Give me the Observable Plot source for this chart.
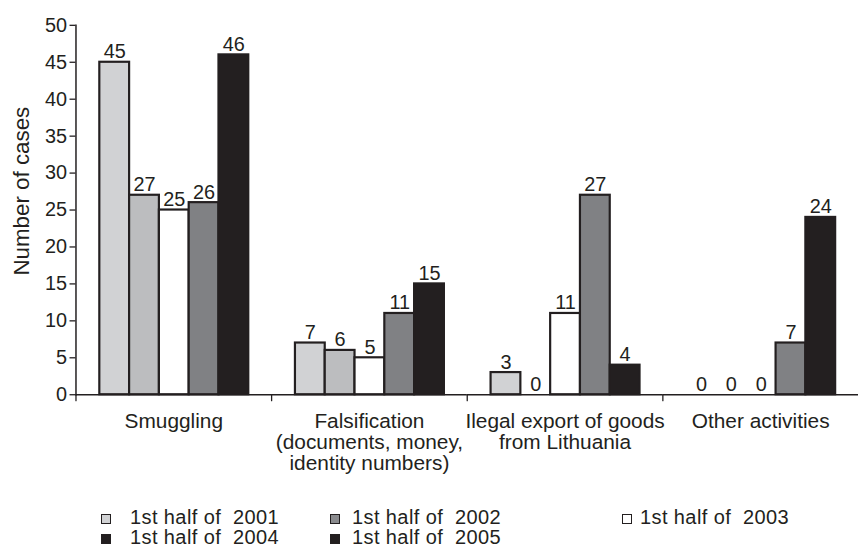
<!DOCTYPE html>
<html>
<head>
<meta charset="utf-8">
<script src="https://cdn.jsdelivr.net/npm/d3@7"></script>
<script src="https://cdn.jsdelivr.net/npm/@observablehq/plot@0.6"></script>
<style>
  html, body { margin: 0; padding: 0; background: #fff; overflow: hidden; width: 859px; height: 549px; }
  #chart svg { display: block; }
  #legend { position: relative; height: 44px; width: 859px; font-family: "Liberation Sans", Arial, sans-serif; font-size: 20px; color: #231f20; }
  .item { position: absolute; display: flex; align-items: center; white-space: pre; letter-spacing: 0.4px; line-height: 14px; height: 14px; }
  .sw { width: 8px; height: 8px; border: 1.6px solid #231f20; position: relative; top: 2px; }
</style>
</head>
<body>
<div id="chart"></div>
<div id="legend"></div>
<script>
// ---- data ----
const categories = ["Smuggling", "Falsification", "Ilegal export", "Other activities"];
const categoryLabels = [
  "Smuggling",
  "Falsification\n(documents, money,\nidentity numbers)",
  "Ilegal export of goods\nfrom Lithuania",
  "Other activities"
];
const series = ["1st half of 2001", "1st half of 2002", "1st half of 2003", "1st half of 2004", "1st half of 2005"];
const smuggling     = [45, 27, 25, 26, 46];
const falsification = [7, 6, 5, 11, 15];
const illegalExport = [3, 0, 11, 27, 4];
const otherActs     = [0, 0, 0, 7, 24];
const yTicks = [0, 5, 10, 15, 20, 25, 30, 35, 40, 45, 50];
const yLabel = "Number of cases";

const barFills = ["#d1d2d4", "#bcbdbf", "#ffffff", "#808184", "#231f20"];
const legendFills = ["#d1d2d4", "#8a8b8e", "#ffffff", "#231f20", "#231f20"];

const valuesByCat = [smuggling, falsification, illegalExport, otherActs];
const rows = [];
categories.forEach((c, i) => series.forEach((s, j) => rows.push({cat: c, ser: s, value: valuesByCat[i][j]})));

const ink = "#231f20";
const tickLine = {draw(ctx, l) { ctx.moveTo(0, 0); ctx.lineTo(0, -l); }};

const chart = Plot.plot({
  width: 865,
  height: 505,
  marginLeft: 75,
  marginRight: 0,
  marginTop: 25,
  marginBottom: 108,
  style: {fontFamily: "'Liberation Sans', Arial, sans-serif", fontSize: "20px", color: ink, background: "#fff"},
  fx: {domain: categories, padding: 0, label: null},
  x: {domain: series, paddingInner: 0, paddingOuter: 0.7, axis: null},
  y: {domain: [0, 50], label: null},
  color: {domain: series, range: barFills},
  marks: [
    Plot.axisFx({anchor: "bottom", tickSize: 0, tickPadding: 19, label: null, fontSize: 21, lineHeight: 1.0,
      tickFormat: d => categoryLabels[categories.indexOf(d)]}),
    Plot.axisY({ticks: yTicks, tickSize: 6, tickPadding: 3, label: null, fontSize: 20, stroke: ink, strokeWidth: 1.3}),
    Plot.barY(rows.filter(d => d.value > 0), {fx: "cat", x: "ser", y: "value", fill: "ser", stroke: ink, strokeWidth: 2.2}),
    Plot.ruleY([0], {stroke: ink, strokeWidth: 1.5}),
    Plot.frame({anchor: "left", fx: () => categories[0], stroke: ink, strokeWidth: 1.5}),
    Plot.vector(categories, {fx: d => d, frameAnchor: "bottom-left", length: 6, rotate: 180, anchor: "start", shape: tickLine, stroke: ink, strokeWidth: 1.3}),
    Plot.text(rows, {fx: "cat", x: "ser", y: "value", text: d => String(d.value), lineAnchor: "bottom", dy: -4, fontSize: 20, fill: ink}),
    Plot.text([categories[0]], {fx: d => d, frameAnchor: "left", textAnchor: "middle", lineAnchor: "middle", text: () => yLabel, rotate: -90, dx: -55, dy: -19, fontSize: 22.5, fill: ink})
  ]
});
document.getElementById("chart").appendChild(chart);

// ---- legend (HTML below the SVG) ----
const legendPos = [
  {left: 101, top: 9}, {left: 330, top: 9}, {left: 622, top: 9},
  {left: 101, top: 29}, {left: 330, top: 29}
];
const textGap = [19, 12, 8, 19, 12];
const legend = document.getElementById("legend");
series.forEach((s, i) => {
  const it = document.createElement("div");
  it.className = "item";
  it.style.left = legendPos[i].left + "px";
  it.style.top = legendPos[i].top + "px";
  const sw = document.createElement("span");
  sw.className = "sw";
  sw.style.background = legendFills[i];
  sw.style.marginRight = textGap[i] + "px";
  const tx = document.createElement("span");
  tx.textContent = s.replace(" of ", " of  ");
  it.appendChild(sw);
  it.appendChild(tx);
  legend.appendChild(it);
});
</script>
</body>
</html>
